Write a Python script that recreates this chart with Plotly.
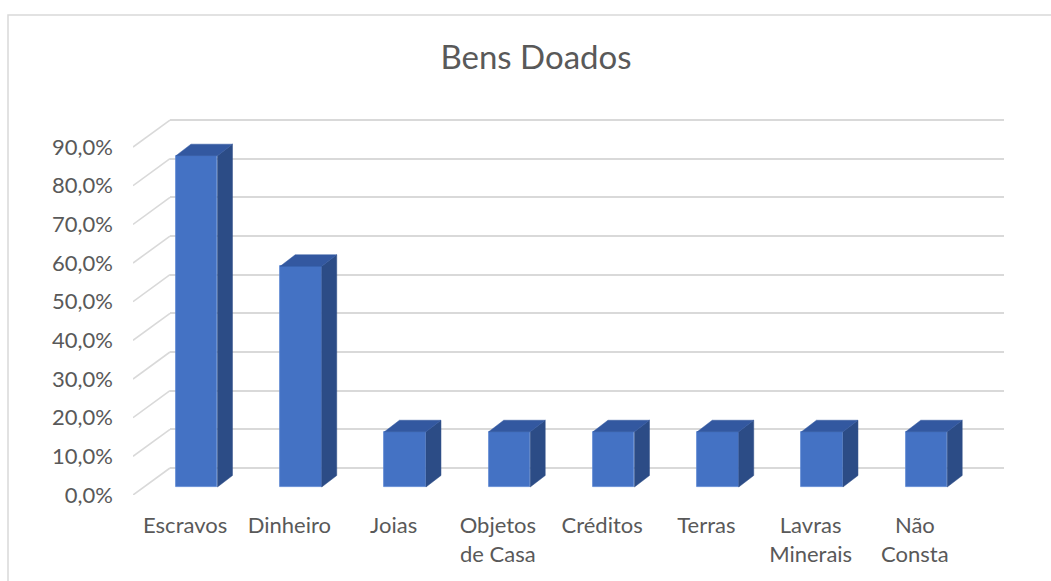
import plotly.graph_objects as go

# ---------------- data ----------------
categories = ["Escravos", "Dinheiro", "Joias", "Objetos<br>de Casa", "Créditos",
              "Terras", "Lavras<br>Minerais", "Não<br>Consta"]
values = [85.7, 57.1, 14.3, 14.3, 14.3, 14.3, 14.3, 14.3]
y_ticks = [0, 10, 20, 30, 40, 50, 60, 70, 80, 90]
y_tick_labels = ["0,0%", "10,0%", "20,0%", "30,0%", "40,0%", "50,0%",
                 "60,0%", "70,0%", "80,0%", "90,0%"]
title_text = "Bens Doados"

# ---------------- geometry (pixels) ----------------
W, H = 1051, 581
L, R, T, B = 133, 1004, 119, 495        # plot area: front floor left .. back wall right
cat_px = 104.25                          # pixels per category on the floor
ppu = 3.866                              # pixels per percentage point
wall_dx, wall_dy = 37.0, 27.0            # floor depth (oblique projection)
bar_off_dx, bar_off_dy = 11.6, 8.0       # bar front face offset inside floor
bar_w = 41.5                             # bar width
bar_ddx, bar_ddy = 15.0, 11.5            # bar depth

xu = lambda p: p / cat_px
yu = lambda p: p / ppu

x2_range = [-0.5, -0.5 + xu(R - L)]
y2_range = [0, yu(B - T)]
back_range = [y2_range[0] - yu(wall_dy), y2_range[1] - yu(wall_dy)]

FRONT = "#4472C4"
SIDE = "#2C4C86"
TOP = "#3358A0"
GRID = "#D9D9D9"
TEXT = "#595959"
FONT = "Lato"

fig = go.Figure()

# dummy trace to create the back-wall subplot (x, y)
fig.add_trace(go.Scatter(x=[None], y=[None], xaxis="x", yaxis="y",
                         showlegend=False, hoverinfo="skip"))

# side-wall diagonal gridlines (front subplot)
dx, dy = [], []
for v in y_ticks:
    dx += [-0.5, -0.5 + xu(wall_dx), None]
    dy += [v, v + yu(wall_dy), None]
fig.add_trace(go.Scatter(x=dx, y=dy, mode="lines", xaxis="x2", yaxis="y2",
                         line=dict(color=GRID, width=1.6),
                         showlegend=False, hoverinfo="skip"))

# bars: front faces
xc = [i + xu(bar_off_dx) for i in range(len(categories))]
base = yu(bar_off_dy)
fig.add_trace(go.Bar(x=xc, y=values, base=base, width=xu(bar_w),
                     xaxis="x2", yaxis="y2",
                     marker=dict(color=FRONT, line=dict(color="#5A86D2", width=0.8)),
                     showlegend=False, hoverinfo="skip"))

# side and top faces
sx, sy, tx, ty = [], [], [], []
for c, v in zip(xc, values):
    xl, xr = c - xu(bar_w) / 2, c + xu(bar_w) / 2
    ddx, ddy = xu(bar_ddx), yu(bar_ddy)
    top = base + v
    sx += [xr, xr + ddx, xr + ddx, xr, xr, None]
    sy += [base, base + ddy, top + ddy, top, base, None]
    tx += [xl, xr, xr + ddx, xl + ddx, xl, None]
    ty += [top, top, top + ddy, top + ddy, top, None]
fig.add_trace(go.Scatter(x=sx, y=sy, mode="lines", fill="toself", fillcolor=SIDE,
                         line=dict(color=SIDE, width=0.5), xaxis="x2", yaxis="y2",
                         showlegend=False, hoverinfo="skip"))
fig.add_trace(go.Scatter(x=tx, y=ty, mode="lines", fill="toself", fillcolor=TOP,
                         line=dict(color=TOP, width=0.5), xaxis="x2", yaxis="y2",
                         showlegend=False, hoverinfo="skip"))

plot_w = R - L
fig.update_layout(
    width=W, height=H,
    margin=dict(l=L, r=W - R, t=T, b=H - B, pad=0),
    paper_bgcolor="white", plot_bgcolor="rgba(0,0,0,0)",
    font=dict(family=FONT, color=TEXT),
    showlegend=False,
    bargap=0,
    title=dict(text=title_text, x=536 / W, xref="container", xanchor="center",
               y=1 - 57 / H, yref="container", yanchor="middle",
               font=dict(size=33, color=TEXT, family=FONT)),
    # back wall (horizontal gridlines)
    xaxis=dict(domain=[wall_dx / plot_w, 1], range=[0, 1], anchor="y",
               visible=False, fixedrange=True),
    yaxis=dict(domain=[0, 1], range=back_range, anchor="x",
               tickvals=y_ticks, showticklabels=False, ticks="",
               showgrid=True, gridcolor=GRID, gridwidth=1.6,
               zeroline=False, showline=False, fixedrange=True),
    # front (bars, labels)
    xaxis2=dict(domain=[0, 1], range=x2_range, anchor="y2",
                tickvals=list(range(len(categories))), ticktext=categories,
                tickfont=dict(size=22, color=TEXT, family=FONT),
                ticks="", ticklabelstandoff=15,
                showgrid=False, zeroline=False, showline=False, fixedrange=True),
    yaxis2=dict(domain=[0, 1], range=y2_range, anchor="x2",
                tickvals=y_ticks, ticktext=y_tick_labels,
                tickfont=dict(size=22, color=TEXT, family=FONT),
                ticks="", ticklabelstandoff=19,
                showgrid=False, zeroline=False, showline=False, fixedrange=True),
    shapes=[dict(type="rect", xref="paper", yref="paper",
                 x0=(8 - L) / plot_w, x1=(W + 20 - L) / plot_w,
                 y0=-(H + 20 - B) / (B - T), y1=(B - 15) / (B - T),
                 line=dict(color=GRID, width=1.5), fillcolor="rgba(0,0,0,0)",
                 layer="below")],
)

fig.write_html("out.html")
